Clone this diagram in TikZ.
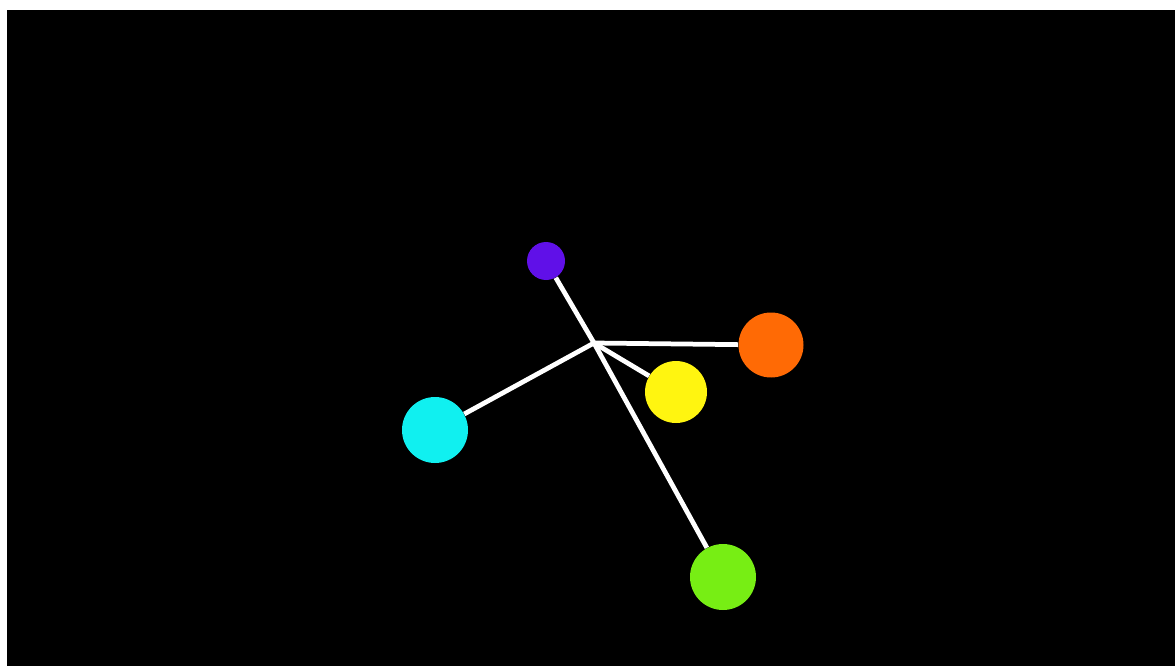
\documentclass[tikz,border=0pt]{standalone}
\definecolor{cViolet}{HTML}{6010E8}
\definecolor{cOrange}{HTML}{FF6A05}
\definecolor{cYellow}{HTML}{FFF510}
\definecolor{cCyan}{HTML}{10F0F0}
\definecolor{cGreen}{HTML}{77EE14}
\begin{document}
\begin{tikzpicture}[x=0.02cm,y=-0.02cm,
  ball/.style={circle,inner sep=0pt,draw=none},
  spoke/.style={draw=white,line width=0.095cm}]
\useasboundingbox (0,0) rectangle (1175,666);
\fill[white] (0,0) rectangle (1175,666);
\fill[black] (7,10) rectangle (1175,666);
\coordinate (hub) at (594,343);
\node[ball,fill=cViolet,minimum size=0.76cm] (p) at (546,261) {};
\node[ball,fill=cOrange,minimum size=1.3cm] (o) at (771,345) {};
\node[ball,fill=cYellow,minimum size=1.24cm] (y) at (676,392) {};
\node[ball,fill=cCyan,minimum size=1.32cm] (c) at (435,430) {};
\node[ball,fill=cGreen,minimum size=1.32cm] (g) at (723,577) {};
\draw[spoke] (hub) -- (p);
\draw[spoke] (hub) -- (o);
\draw[spoke] (hub) -- (y);
\draw[spoke] (hub) -- (c);
\draw[spoke] (hub) -- (g);
\end{tikzpicture}
\end{document}
